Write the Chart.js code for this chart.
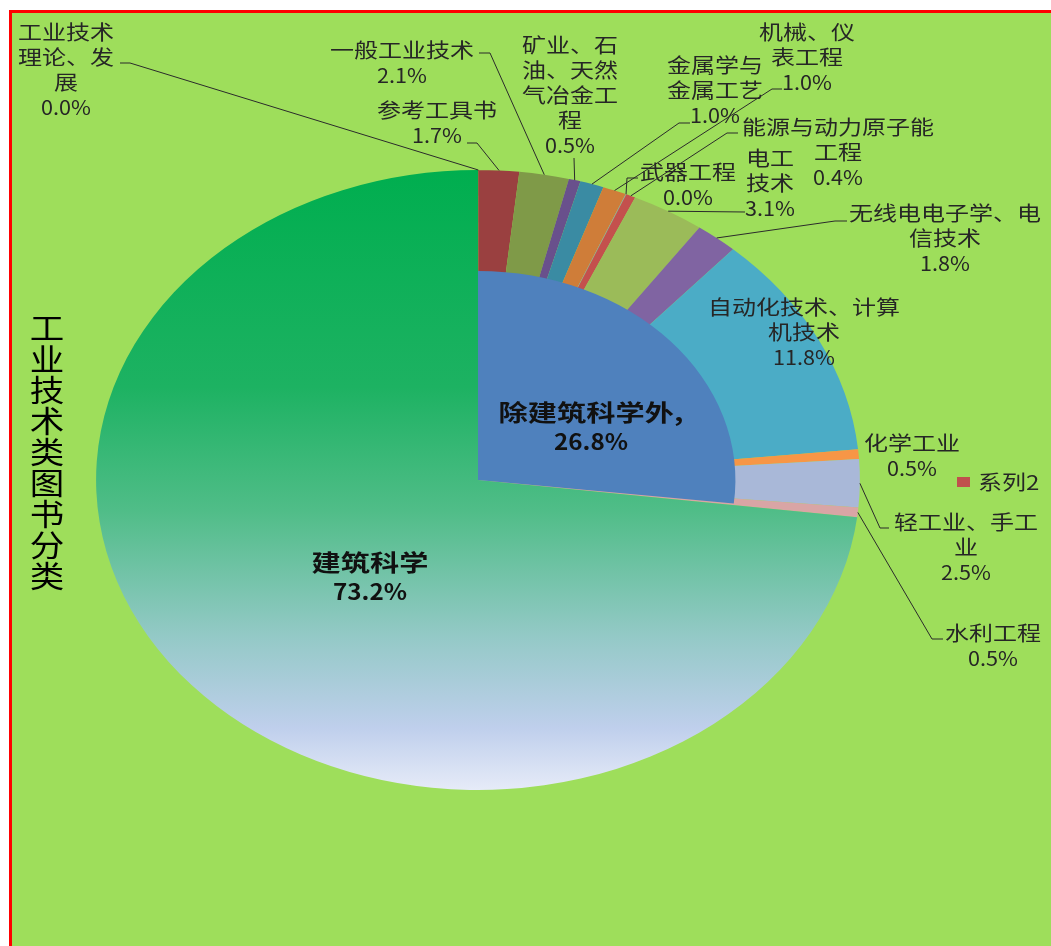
<!DOCTYPE html>
<html lang="zh">
<head>
<meta charset="utf-8">
<title>工业技术类图书分类</title>
<script src="https://cdn.jsdelivr.net/npm/chart.js@4.4.0/dist/chart.umd.min.js"></script>
<style>
    html, body { margin: 0; padding: 0; background: #fff; }
    .wrap { position: relative; width: 1051px; height: 946px; }
    .wrap canvas { position: absolute; left: 0; top: 0; }
</style>
</head>
<body>
<div class="wrap">
    <canvas id="subChart" width="1051" height="946"></canvas>
    <canvas id="mainChart" width="1051" height="946"></canvas>
</div>
<script>
        // Data (percent of all industrial-technology books)
        const titleText = '工业技术类图书分类';
        const seriesName = '系列2';

        const mainCategories = ['除建筑科学外', '建筑科学'];
        const mainValues = [26.8, 73.2];
        const mainColors = ['#4F81BD', 'rgba(0,0,0,0)'];

        const subCategories = ['工业技术理论、发展', '参考工具书', '一般工业技术', '矿业、石油、天然气冶金工程',
            '金属学与金属工艺', '机械、仪表工程', '武器工程', '能源与动力原子能工程', '电工技术',
            '无线电电子学、电信技术', '自动化技术、计算机技术', '化学工业', '轻工业、手工业', '水利工程'];
        const subValues = [0.03, 1.7, 2.1, 0.5, 1.0, 1.0, 0.03, 0.4, 3.1, 1.8, 11.8, 0.5, 2.5, 0.5];
        const subColors = ['#953735', '#9A4040', '#7F9A48', '#69508C', '#3A8BA3', '#CF7D39', '#8EA0B8',
            '#C4504D', '#9BBB59', '#8064A2', '#4BACC6', '#F79646', '#A9B8D8', '#D9A5A5'];

        // Label placement (text centre of first line, wrap length, leader elbow / end)
        const subLabelLayout = [
            { x: 66, y: 32, wrap: 4, elbow: [130, 63], end: [120, 63] },
            { x: 437, y: 110, wrap: 5, elbow: [477, 143], end: [467, 143] },
            { x: 402, y: 50, wrap: 6, elbow: [490, 53], end: [479, 53] },
            { x: 570, y: 45, wrap: 4, elbow: [574, 158], end: [574, 158] },
            { x: 715, y: 65, wrap: 4, elbow: [679, 123], end: [690, 123] },
            { x: 807, y: 32, wrap: 4, elbow: [772, 89], end: [782, 89] },
            { x: 688, y: 172, wrap: 4, elbow: [627, 178], end: [638, 178] },
            { x: 838, y: 127, wrap: 8, elbow: [727, 133], end: [738, 133] },
            { x: 770, y: 158, wrap: 2, elbow: [745, 212], end: [745, 212] },
            { x: 945, y: 213, wrap: 8, elbow: [835, 221], end: [847, 221] },
            { x: 804, y: 307, wrap: 8, elbow: null },
            { x: 912, y: 443, wrap: 4, elbow: null },
            { x: 966, y: 522, wrap: 6, elbow: [880, 528], end: [889, 528] },
            { x: 993, y: 633, wrap: 4, elbow: [932, 639], end: [943, 639] }
        ];
        const mainLabelLayout = [
            { x: 591, y: 412, suffix: ',' },
            { x: 370, y: 562, suffix: '' }
        ];

        const STRETCH_X = 1.232;
        const FONT = "'Noto Sans CJK SC', 'Microsoft YaHei', sans-serif";
        const padding = { left: 168, top: 170, right: 263, bottom: 156 };

        function pct(v) {
            return v.toFixed(1) + '%';
        }

        function chunk(str, n) {
            const out = [];
            for (let i = 0; i < str.length; i += n) out.push(str.slice(i, i + n));
            return out;
        }

        function drawText(ctx, str, x, y, font, sx, align) {
            ctx.save();
            ctx.font = font;
            ctx.textAlign = align || 'center';
            ctx.textBaseline = 'middle';
            ctx.translate(x, y);
            ctx.scale(sx, 1);
            ctx.fillText(str, 0, 0);
            ctx.restore();
        }

        function edgePoint(arc) {
            const a = (arc.startAngle + arc.endAngle) / 2;
            return [arc.x + Math.cos(a) * arc.outerRadius * STRETCH_X, arc.y + Math.sin(a) * arc.outerRadius];
        }

        // Stretch the pie horizontally like the original picture
        const stretchPlugin = {
            id: 'stretch',
            beforeDatasetsDraw(chart) {
                const arc = chart.getDatasetMeta(0).data[0];
                const ctx = chart.ctx;
                ctx.save();
                ctx.translate(arc.x, arc.y);
                ctx.scale(STRETCH_X, 1);
                ctx.translate(-arc.x, -arc.y);
            },
            afterDatasetsDraw(chart) {
                chart.ctx.restore();
            }
        };

        const backgroundPlugin = {
            id: 'bg',
            beforeDraw(chart) {
                const ctx = chart.ctx;
                const w = chart.width, h = chart.height;
                ctx.save();
                ctx.fillStyle = '#fff';
                ctx.fillRect(0, 0, w, h);
                ctx.fillStyle = '#9EDE5B';
                ctx.fillRect(9, 10, w - 9, h - 10);
                ctx.fillStyle = '#FF0000';
                ctx.fillRect(9, 10, w - 9, 3);
                ctx.fillRect(9, 10, 3, h - 10);
                ctx.restore();
            }
        };

        const subLabelPlugin = {
            id: 'subLabels',
            afterDraw(chart) {
                const ctx = chart.ctx;
                const arcs = chart.getDatasetMeta(0).data;
                ctx.save();
                ctx.strokeStyle = '#2b2b2b';
                ctx.lineWidth = 1;
                ctx.fillStyle = '#262626';
                subCategories.forEach((name, i) => {
                    const lay = subLabelLayout[i];
                    if (lay.elbow) {
                        const p = edgePoint(arcs[i]);
                        ctx.beginPath();
                        ctx.moveTo(p[0], p[1]);
                        ctx.lineTo(lay.elbow[0], lay.elbow[1]);
                        ctx.lineTo(lay.end[0], lay.end[1]);
                        ctx.stroke();
                    }
                    const lines = chunk(name, lay.wrap);
                    lines.forEach((line, k) => {
                        drawText(ctx, line, lay.x, lay.y + k * 25, '20px ' + FONT, 1.2);
                    });
                    drawText(ctx, pct(subValues[i]), lay.x, lay.y + lines.length * 25, '20px ' + FONT, 1.08);
                });

                // vertical title
                ctx.fillStyle = '#000';
                titleText.split('').forEach((ch, k) => {
                    drawText(ctx, ch, 47, 328 + k * 31, '30px ' + FONT, 1.15);
                });

                // legend
                ctx.fillStyle = '#C0504D';
                ctx.fillRect(957, 477, 13, 10);
                ctx.fillStyle = '#262626';
                drawText(ctx, seriesName, 978, 482, '20px ' + FONT, 1.2, 'left');
                ctx.restore();
            }
        };

        const mainLabelPlugin = {
            id: 'mainLabels',
            afterDraw(chart) {
                const ctx = chart.ctx;
                ctx.save();
                ctx.fillStyle = '#111';
                mainCategories.forEach((name, i) => {
                    const lay = mainLabelLayout[i];
                    drawText(ctx, name + lay.suffix, lay.x, lay.y, 'bold 23px ' + FONT, 1.27);
                    drawText(ctx, pct(mainValues[i]), lay.x, lay.y + 30, 'bold 22px ' + FONT, 1.1);
                });
                ctx.restore();
            }
        };

        function buildGradient(chart) {
            const area = chart.chartArea;
            if (!area) return '#00B050';
            const g = chart.ctx.createLinearGradient(0, area.top, 0, area.bottom);
            g.addColorStop(0, '#00AE4F');
            g.addColorStop(0.35, '#1DB262');
            g.addColorStop(0.55, '#50BD88');
            g.addColorStop(0.75, '#93C9C6');
            g.addColorStop(0.9, '#BFCFEC');
            g.addColorStop(1, '#E6EBF8');
            return g;
        }

        // Outer pie: sub categories + 建筑科学
        const subCtx = document.getElementById('subChart').getContext('2d');
        new Chart(subCtx, {
            type: 'pie',
            data: {
                labels: subCategories.concat([mainCategories[1]]),
                datasets: [{
                    data: subValues.concat([mainValues[1]]),
                    backgroundColor: function(c) {
                        if (c.dataIndex === subValues.length) return buildGradient(c.chart);
                        return subColors[c.dataIndex];
                    },
                    borderWidth: 0
                }]
            },
            options: {
                responsive: false,
                animation: false,
                events: [],
                layout: { padding: padding },
                plugins: { legend: { display: false }, tooltip: { enabled: false } }
            },
            plugins: [backgroundPlugin, stretchPlugin, subLabelPlugin]
        });

        // Inner pie: 除建筑科学外 drawn at a smaller radius
        const mainCtx = document.getElementById('mainChart').getContext('2d');
        new Chart(mainCtx, {
            type: 'pie',
            data: {
                labels: mainCategories,
                datasets: [{
                    data: mainValues,
                    backgroundColor: mainColors,
                    borderWidth: 0
                }]
            },
            options: {
                responsive: false,
                animation: false,
                events: [],
                radius: '67.4%',
                layout: { padding: padding },
                plugins: { legend: { display: false }, tooltip: { enabled: false } }
            },
            plugins: [stretchPlugin, mainLabelPlugin]
        });
</script>
</body>
</html>
